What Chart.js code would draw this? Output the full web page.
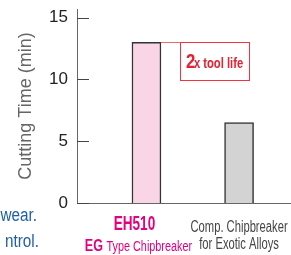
<!DOCTYPE html>
<html>
<head>
<meta charset="utf-8">
<script src="https://cdn.jsdelivr.net/npm/chart.js@4.4.0/dist/chart.umd.min.js"></script>
<style>
  html, body { margin: 0; padding: 0; background: #fff; }
  #wrap { width: 291px; height: 255px; }
</style>
</head>
<body>
<div id="wrap"><canvas id="chart" width="291" height="255"></canvas></div>
<script>
  // data
  const categories = [
    ['EH510', 'EG Type Chipbreaker'],
    ['Comp. Chipbreaker', 'for Exotic Alloys']
  ];
  const cuttingTime = [13, 6.5];
  const barColors = ['#f9d5e5', '#d3d3d3'];
  const yTicks = [0, 5, 10, 15];
  const calloutText = ['2', 'x tool life'];
  const sideText = ['wear.', 'ntrol.'];

  const sans = "'Liberation Sans', Arial, sans-serif";
  const magenta = '#e4007f';

  // condensed look: Liberation Sans squeezed horizontally
  function squeezeText(ctx, text, x, y, font, color, sx, align) {
    ctx.save();
    ctx.font = font;
    ctx.fillStyle = color;
    ctx.textBaseline = 'alphabetic';
    ctx.textAlign = align || 'center';
    ctx.translate(x, y);
    ctx.scale(sx, 1);
    ctx.fillText(text, 0, 0);
    ctx.restore();
  }

  function textWidth(ctx, text, font, sx) {
    ctx.save();
    ctx.font = font;
    const w = ctx.measureText(text).width * sx;
    ctx.restore();
    return w;
  }

  const extras = {
    id: 'extras',
    afterDraw(chart) {
      const ctx = chart.ctx;
      const xs = chart.scales.x;
      const ys = chart.scales.y;

      // tick marks point into the plot
      ctx.save();
      ctx.strokeStyle = '#444';
      ctx.lineWidth = 1;
      yTicks.forEach(v => {
        const py = Math.round(ys.getPixelForValue(v)) + 0.5;
        ctx.beginPath();
        ctx.moveTo(xs.left, py);
        ctx.lineTo(xs.left + 12, py);
        ctx.stroke();
      });
      ctx.restore();

      // category labels
      const p0 = xs.getPixelForValue(0);
      const p1 = xs.getPixelForValue(1);
      squeezeText(ctx, categories[0][0], p0 - 12, 230, 'bold 20px ' + sans, magenta, 0.68);

      const fBold = 'bold 17px ' + sans;
      const fReg = '15.5px ' + sans;
      const rest = categories[0][1].replace('EG ', '');
      const w1 = textWidth(ctx, 'EG ', fBold, 0.74);
      const w2 = textWidth(ctx, rest, fReg, 0.7);
      const startX = p0 - 8 - (w1 + w2) / 2;
      squeezeText(ctx, 'EG', startX, 251, fBold, magenta, 0.74, 'left');
      squeezeText(ctx, rest, startX + w1, 251, fReg, magenta, 0.7, 'left');

      squeezeText(ctx, categories[1][0], p1, 232, '16px ' + sans, '#444', 0.7);
      squeezeText(ctx, categories[1][1], p1, 249, '16px ' + sans, '#444', 0.7);

      // callout from the top of the first bar
      const bar = chart.getDatasetMeta(0).data[0];
      const barRight = bar.x + bar.width / 2;
      const top = Math.round(bar.y) + 0.5;
      ctx.save();
      ctx.strokeStyle = '#f26470';
      ctx.lineWidth = 1;
      ctx.beginPath();
      ctx.moveTo(barRight, top);
      ctx.lineTo(barRight + 19, top);
      ctx.stroke();
      ctx.strokeStyle = '#ee3344';
      ctx.strokeRect(Math.round(barRight + 19) + 0.5, top, 69, 38);
      ctx.restore();
      squeezeText(ctx, calloutText[0], barRight + 25, top + 25, 'bold 21px ' + sans, '#e8202f', 0.8, 'left');
      squeezeText(ctx, calloutText[1], barRight + 33, top + 25, 'bold 14px ' + sans, '#e8202f', 0.8, 'left');

      // text of the neighbouring column, cut off at the left
      squeezeText(ctx, sideText[0], 37, 221, '18px ' + sans, '#1f5fa8', 0.85, 'right');
      squeezeText(ctx, sideText[1], 39, 247, '18px ' + sans, '#1f5fa8', 0.85, 'right');
    }
  };

  new Chart(document.getElementById('chart').getContext('2d'), {
    type: 'bar',
    data: {
      datasets: [{
        data: cuttingTime.map((v, i) => ({ x: i, y: v })),
        backgroundColor: barColors,
        borderColor: '#333',
        borderWidth: 1.5,
        barThickness: 29
      }]
    },
    options: {
      responsive: false,
      animation: false,
      layout: { padding: { top: 0, right: 1, bottom: 0, left: 0 } },
      plugins: { legend: { display: false }, tooltip: { enabled: false } },
      scales: {
        x: {
          type: 'linear',
          min: -0.75,
          max: 1.55,
          offset: false,
          ticks: { display: false },
          grid: { display: false, drawTicks: false },
          border: { color: '#666', width: 1 },
          afterFit: s => { s.height = 52; }
        },
        y: {
          min: 0,
          max: 15.7,
          afterBuildTicks: s => { s.ticks = yTicks.map(v => ({ value: v })); },
          ticks: { color: '#222', padding: 9, font: { family: sans, size: 17 } },
          grid: { display: false, drawTicks: false },
          border: { color: '#666', width: 1 },
          title: {
            display: true,
            text: 'Cutting Time (min)',
            color: '#666',
            font: { family: sans, size: 18 },
            padding: { top: 15, bottom: 0 }
          },
          afterFit: s => {
            s.width = 77;
            // plot starts near the top edge, as in the picture
            s.paddingTop = 9;
          }
        }
      }
    },
    plugins: [extras]
  });
</script>
</body>
</html>
